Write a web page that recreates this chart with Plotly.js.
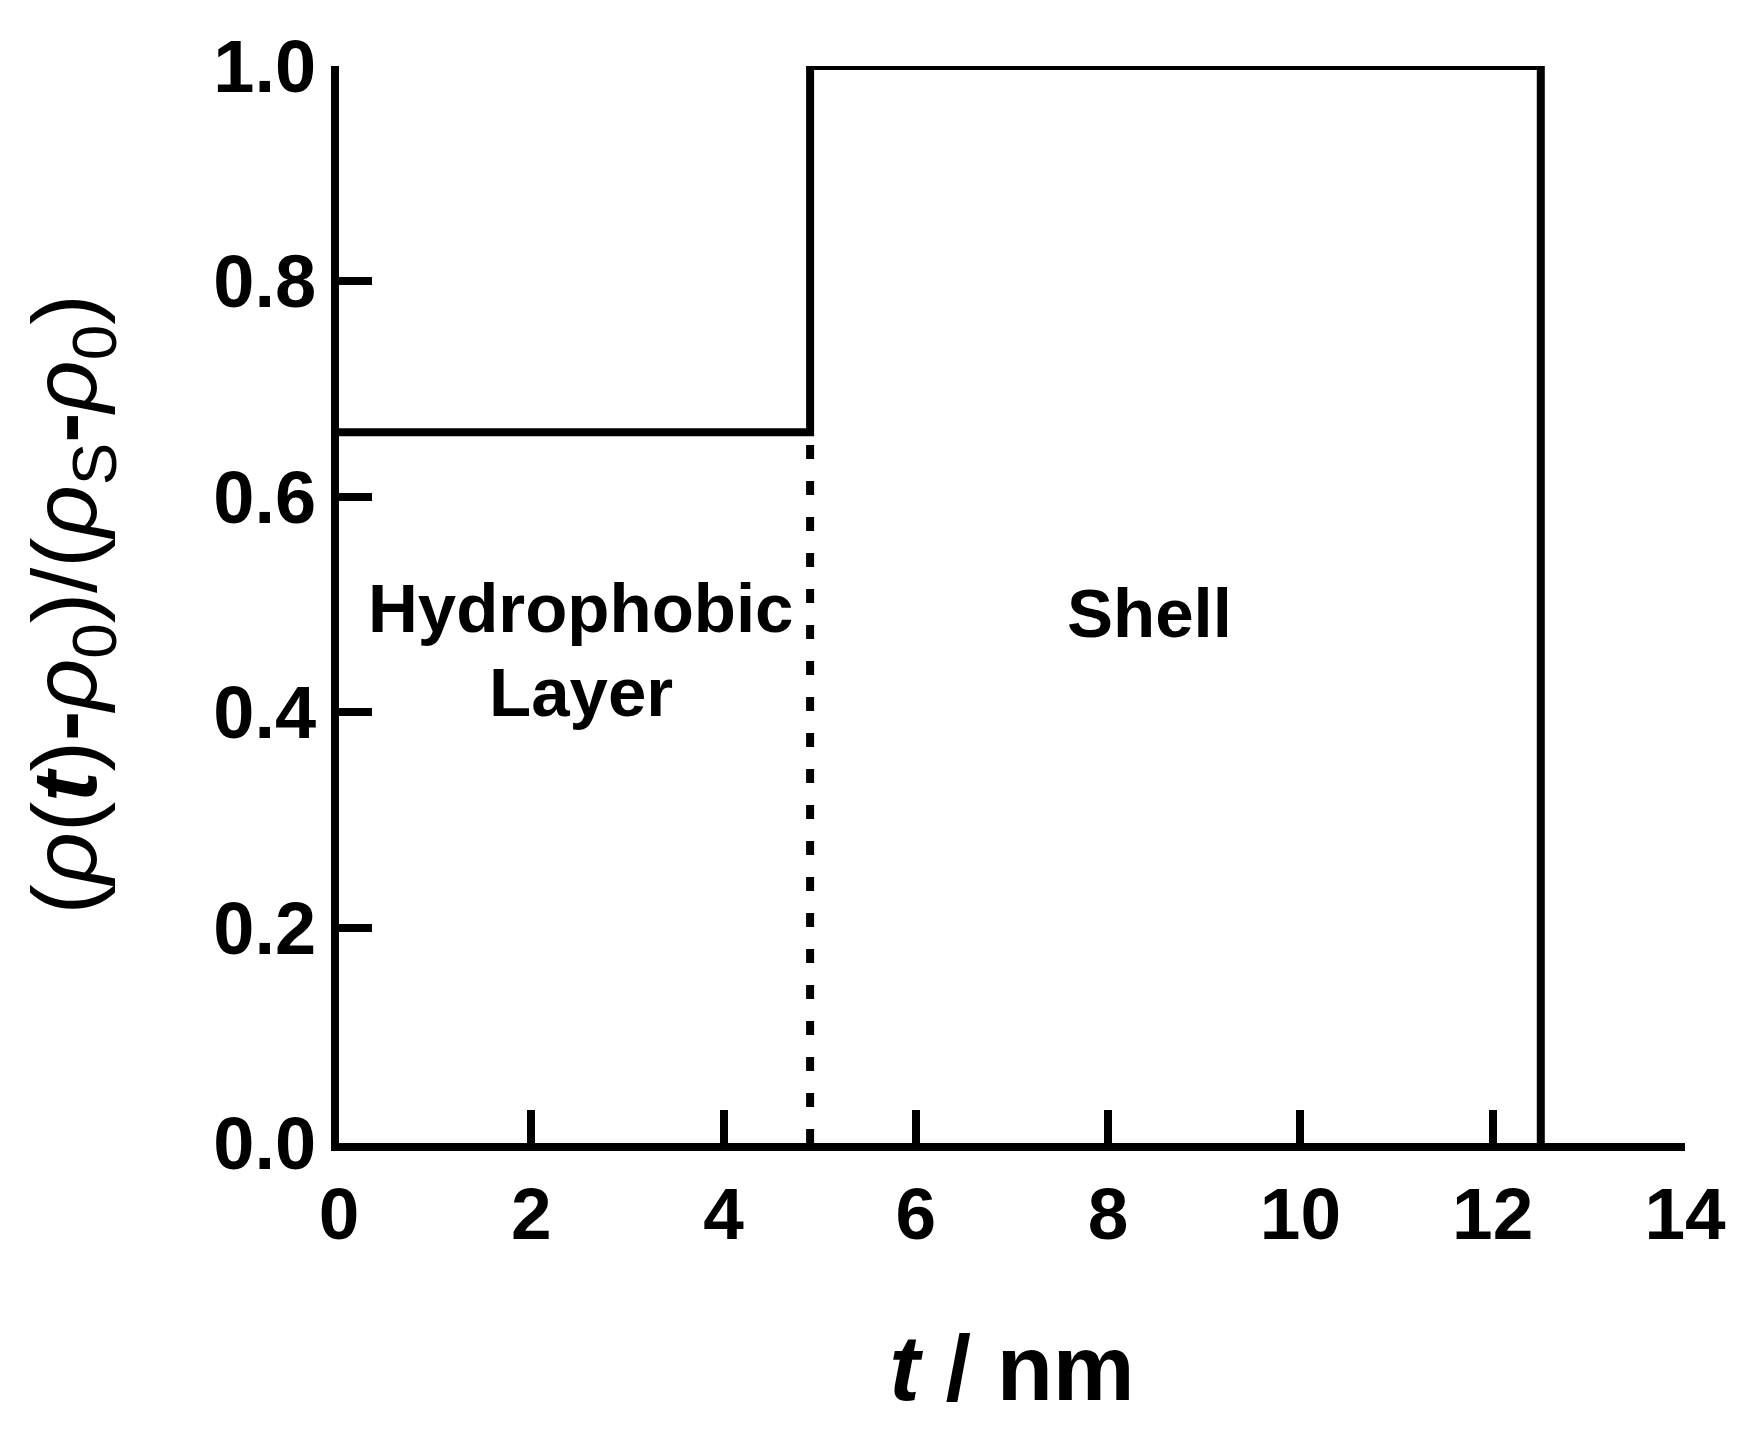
<!DOCTYPE html>
<html>
<head>
<meta charset="utf-8">
<script src="https://cdn.plot.ly/plotly-3.0.1.min.js"></script>
<style>html,body{margin:0;padding:0;background:#fff;}#chart{width:1753px;height:1429px;}</style>
</head>
<body>
<div id="chart"></div>
<script>
// Step profile (solid part)
const profileX = [0, 4.9, 4.9, 12.5, 12.5];
const profileY = [0.66, 0.66, 1.0, 1.0, 0.0];
// Boundary between hydrophobic layer and shell (dotted part)
const boundaryX = [4.9, 4.9];
const boundaryY = [0.0, 0.66];
// Region labels
const labelText = ["Hydrophobic", "Layer", "Shell"];
const labelX = [2.52, 2.52, 8.43];
const labelY = [0.496, 0.418, 0.492];
// Ticks
const xTicks = [0, 2, 4, 6, 8, 10, 12, 14];
const yTicks = [0.0, 0.2, 0.4, 0.6, 0.8, 1.0];

const FONT = 'Liberation Sans, Arial, sans-serif';

const traces = [
  {x: profileX, y: profileY, type: 'scatter', mode: 'lines',
   line: {color: '#000', width: 8, shape: 'linear'}, showlegend: false, hoverinfo: 'skip'},
  {x: boundaryX, y: boundaryY, type: 'scatter', mode: 'lines',
   line: {color: '#000', width: 8, dash: '14px,22px'}, showlegend: false, hoverinfo: 'skip'}
];

const annotations = labelText.map((t, i) => ({
  x: labelX[i], y: labelY[i], xref: 'x', yref: 'y', text: t, showarrow: false,
  font: {family: FONT, size: 69, color: '#000', weight: 700},
  xanchor: 'center', yanchor: 'middle'
}));

const layout = {
  width: 1753, height: 1429,
  margin: {l: 339, r: 68, t: 66, b: 286},
  paper_bgcolor: '#fff', plot_bgcolor: '#fff',
  showlegend: false,
  xaxis: {
    range: [0, 14], tickvals: xTicks, ticktext: xTicks.map(String),
    ticks: 'inside', ticklen: 33, tickwidth: 8, tickcolor: '#000',
    showline: true, linewidth: 8, linecolor: '#000', mirror: false,
    showgrid: false, zeroline: false,
    tickfont: {family: FONT, size: 73, color: '#000', weight: 700},
    ticklabelstandoff: 0,
    title: {text: '<i>t</i> / nm', font: {family: FONT, size: 92, color: '#000', weight: 700}, standoff: 86}
  },
  yaxis: {
    range: [0, 1.0], tickvals: yTicks, ticktext: yTicks.map(v => v.toFixed(1)),
    ticks: 'inside', ticklen: 33, tickwidth: 8, tickcolor: '#000',
    showline: true, linewidth: 8, linecolor: '#000', mirror: false,
    showgrid: false, zeroline: false,
    tickfont: {family: FONT, size: 74, color: '#000', weight: 700},
    ticklabelstandoff: 0,
    title: {text: '(<i>ρ</i>(<b><i>t</i></b>)<b>-</b><i>ρ</i><sub>0</sub>)/(<i>ρ</i><sub>S</sub><b>-</b><i>ρ</i><sub>0</sub>)',
            font: {family: FONT, size: 91, color: '#000'}, standoff: 89}
  },
  annotations: annotations
};

Plotly.newPlot('chart', traces, layout, {displayModeBar: false, staticPlot: true});
</script>
</body>
</html>
